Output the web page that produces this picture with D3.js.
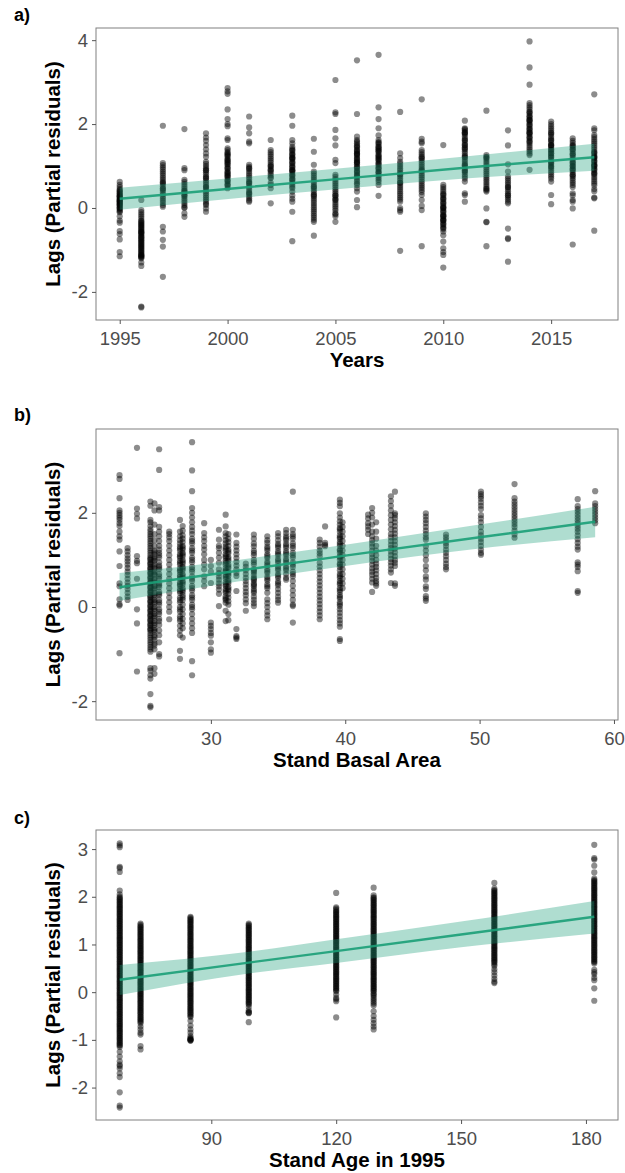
<!DOCTYPE html>
<html>
<head>
<meta charset="utf-8">
<script src="https://cdn.jsdelivr.net/npm/d3@7"></script>
<style>
  html, body { margin: 0; padding: 0; background: #fff; }
  svg { display: block; font-family: "Liberation Sans", Arial, sans-serif; }
</style>
</head>
<body>
<svg id="chart" width="625" height="1173"></svg>
<script>
// ---------------- Panel a: Years ----------------
const yearsA = [1995,1996,1997,1998,1999,2000,2001,2002,2003,2004,2005,2006,2007,2008,2009,2010,2011,2012,2013,2014,2015,2016,2017];
const lagsA = [
  [0.62,0.55,0.5,0.45,0.4,0.35,0.32,0.3,0.28,0.25,0.22,0.2,0.18,0.15,0.14,0.12,0.1,0.08,0.05,0.02,0,-0.05,-0.1,-0.2,-0.3,-0.35,-0.55,-0.62,-0.75,-1.05,-1.15,0.42,0.37,0.27,0.17,0.07,-0.02,-0.08],
  [0.19,-0.05,-0.1,-0.15,-0.2,-0.25,-0.3,-0.35,-0.4,-0.45,-0.5,-0.55,-0.58,-0.6,-0.62,-0.65,-0.68,-0.7,-0.75,-0.8,-0.85,-0.9,-0.95,-1,-1.05,-1.1,-1.12,-1.15,-1.18,-1.2,-1.3,-1.38,-2.35,-2.37,-0.32,-0.37,-0.42,-0.47,-0.52,-0.57,-0.72,-0.77,-0.82,-0.87,-0.92,-0.97,-1.02,-1.07,-1.13,-1.16],
  [1.96,1.07,1.02,0.97,0.92,0.87,0.82,0.77,0.72,0.67,0.62,0.6,0.57,0.52,0.47,0.45,0.42,0.37,0.32,0.27,0.22,0.17,0.12,0.07,0.03,-0.45,-0.56,-0.76,-0.92,-1.64],
  [1.88,0.95,0.9,0.67,0.62,0.57,0.52,0.47,0.42,0.4,0.37,0.32,0.3,0.27,0.22,0.17,0.12,0.07,0.02,0,-0.13,-0.21],
  [1.78,1.68,1.6,1.5,1.4,1.3,1.22,1.1,1.05,1,0.95,0.9,0.9,0.85,0.8,0.75,0.72,0.7,0.65,0.6,0.55,0.5,0.5,0.45,0.4,0.35,0.3,0.25,0.2,0.15,0.1,0.07,-0.01,-0.09],
  [2.86,2.78,2.72,2.35,2.12,2,1.95,1.66,1.62,1.42,1.38,1.33,1.3,1.28,1.23,1.18,1.13,1.1,1.08,1.03,0.98,0.93,0.88,0.83,0.8,0.78,0.73,0.68,0.63,0.58,0.53,0.47,1.25,1.15,1.05,0.95,0.85,0.75,0.65,0.55],
  [2.18,1.92,1.78,1.58,1.54,1.03,0.98,0.95,0.93,0.88,0.83,0.78,0.73,0.68,0.63,0.6,0.58,0.53,0.48,0.43,0.38,0.35,0.33,0.28,0.23,0.18,0.15],
  [1.62,1.38,1.33,1.28,1.23,1.18,1.13,1.08,1.03,1,0.98,0.93,0.9,0.88,0.83,0.78,0.73,0.71,0.6,0.55,0.47,0.11],
  [2.2,1.96,1.62,1.54,1.46,1.41,1.36,1.31,1.26,1.21,1.2,1.16,1.11,1.06,1.01,0.96,0.91,0.9,0.86,0.81,0.76,0.71,0.66,0.61,0.56,0.51,0.47,0.39,0.3,0.22,0.15,-0.09,-0.79,1.38,1.28,1.18,1.08,0.98,0.88,0.78,0.68],
  [1.65,1.34,1.03,0.87,0.82,0.77,0.72,0.67,0.62,0.57,0.52,0.5,0.47,0.42,0.37,0.32,0.3,0.27,0.22,0.17,0.12,0.07,0.02,-0.03,-0.08,-0.13,-0.18,-0.23,-0.28,-0.33,-0.66],
  [3.05,2.28,2.24,1.86,1.66,1.49,1.15,1.07,0.79,0.74,0.69,0.64,0.59,0.54,0.49,0.44,0.39,0.34,0.3,0.29,0.24,0.2,0.19,0.14,0.09,0.04,-0.01,-0.06,-0.13,-0.15,-0.2,-0.33],
  [3.52,2.24,1.7,1.62,1.58,1.54,1.49,1.44,1.39,1.34,1.3,1.29,1.24,1.19,1.14,1.1,1.09,1.04,0.99,0.94,0.89,0.84,0.79,0.74,0.69,0.64,0.59,0.55,0.47,0.39,0.19,0.02,1.47,1.37,1.27,1.17,1.07,0.97,0.87,0.77],
  [3.65,2.4,2.12,1.9,1.73,1.62,1.57,1.52,1.47,1.42,1.4,1.37,1.32,1.27,1.22,1.2,1.17,1.12,1.07,1.02,0.97,0.92,0.87,0.82,0.77,0.72,0.67,0.62,0.55,0.29,1.55,1.45,1.35,1.25,1.15,1.05,0.95,0.85],
  [2.29,1.3,1.19,1.1,1.05,1,0.95,0.9,0.85,0.8,0.8,0.75,0.7,0.65,0.6,0.6,0.55,0.5,0.45,0.4,0.35,0.3,0.25,0.2,0.15,0,-0.05,-0.09,-1.02],
  [2.59,1.65,1.58,1.54,1.38,1.33,1.28,1.23,1.2,1.18,1.13,1.08,1.03,0.98,0.93,0.9,0.88,0.83,0.78,0.73,0.68,0.63,0.58,0.53,0.48,0.43,0.38,0.31,0.19,0.05,-0.05,-0.91],
  [1.5,0.55,0.5,0.45,0.4,0.35,0.3,0.25,0.2,0.15,0.1,0.05,0,0,-0.05,-0.1,-0.15,-0.2,-0.2,-0.25,-0.3,-0.3,-0.35,-0.4,-0.45,-0.5,-0.56,-0.65,-0.8,-0.96,-1.05,-1.12,-1.42,0.32,0.22,0.12,0.02,-0.08,-0.18,-0.28,-0.38,-0.48],
  [2.08,1.9,1.85,1.8,1.8,1.75,1.7,1.65,1.6,1.55,1.5,1.5,1.45,1.4,1.35,1.3,1.25,1.2,1.15,1.1,1.05,1,0.95,0.9,0.85,0.8,0.75,0.7,0.63,0.35,0.31,0.15,1.88,1.78,1.62,1.42,1.22,1.02,0.88],
  [2.32,1.26,1.22,1.2,1.17,1.12,1.07,1.02,0.97,0.92,0.87,0.82,0.77,0.72,0.67,0.62,0.57,0.52,0.47,0.45,0.42,0.39,-0.01,-0.33,-0.34,-0.91],
  [1.85,1.49,1.04,0.87,0.75,0.7,0.65,0.6,0.55,0.5,0.5,0.45,0.4,0.35,0.3,0.3,0.25,0.2,0.15,0.11,-0.49,-0.72,-0.74,-1.28],
  [3.97,3.35,2.94,2.5,2.45,2.4,2.35,2.3,2.25,2.2,2.15,2.1,2.1,2.05,2,1.95,1.9,1.85,1.8,1.8,1.75,1.7,1.65,1.6,1.55,1.5,1.45,1.4,1.35,1.3,1.26,0.91,2.28,2.18,2.08,1.98,1.88,1.78,1.68,1.58],
  [2.06,2,1.95,1.9,1.85,1.8,1.75,1.7,1.65,1.6,1.55,1.5,1.5,1.45,1.4,1.35,1.3,1.3,1.25,1.2,1.15,1.1,1.05,1,0.95,0.9,0.85,0.8,0.75,0.7,0.63,0.31,0.09,1.78,1.62,1.48,1.38,1.22,1.08,0.98],
  [1.66,1.6,1.55,1.5,1.45,1.4,1.4,1.35,1.3,1.25,1.2,1.15,1.1,1.05,1,1,0.95,0.9,0.85,0.8,0.75,0.7,0.65,0.6,0.55,0.5,0.35,0.3,0.19,0.15,-0.01,-0.87,1.48,1.28,1.08,0.92,0.78],
  [2.71,1.9,1.85,1.74,1.69,1.64,1.59,1.54,1.49,1.44,1.39,1.34,1.29,1.24,1.2,1.19,1.14,1.09,1.04,1,0.99,0.94,0.89,0.84,0.79,0.74,0.69,0.64,0.59,0.54,0.45,0.4,0.25,0.23,-0.54,1.32,1.22,1.12,1.02,0.92,0.82]
];
const fitA_x  = [1995, 2001, 2006, 2011, 2017];
const fitA_y  = [0.22, 0.50, 0.73, 0.96, 1.21];
const fitA_lo = [-0.04, 0.26, 0.49, 0.70, 0.89];
const fitA_hi = [0.48, 0.75, 0.98, 1.23, 1.53];
const ticksAx = [1995, 2000, 2005, 2010, 2015];
const ticksAy = [-2, 0, 2, 4];

// ---------------- Panel b: Stand Basal Area ----------------
const basalB = [23.2,23.8,24.5,25.5,25.8,26.15,26.9,27.7,27.9,28.6,29.5,30.0,30.6,31.1,31.3,31.9,32.6,33.2,34.2,35.0,35.6,36.1,38.1,38.5,39.6,39.8,41.7,42.0,42.3,43.4,43.7,46.0,47.5,50.1,52.6,57.3,58.6];
const lagsB = [
  [2.8,2.72,2.31,2.05,2,1.95,1.9,1.85,1.78,1.72,1.6,1.5,1.43,1.18,0.87,0.5,0.44,0.16,0.06,0.03,-0.98],
  [1.25,1.18,1.1,1.03,0.97,0.9,0.83,0.75,0.68,0.6,0.52,0.45,0.38,0.3,0.22,0.15],
  [3.38,2.09,1.98,1.88,1.08,0.98,0.93,0.6,-0.05,-0.35,-1.37],
  [2.24,2.15,1.85,1.8,1.72,1.65,1.6,1.55,1.5,1.45,1.4,1.35,1.3,1.25,1.2,1.15,1.1,1.05,1,0.95,0.9,0.85,0.8,0.75,0.7,0.65,0.6,0.55,0.5,0.45,0.4,0.35,0.3,0.25,0.2,0.15,0.1,0.05,0,-0.05,-0.1,-0.15,-0.2,-0.25,-0.3,-0.35,-0.4,-0.45,-0.5,-0.55,-0.6,-0.65,-0.7,-0.75,-0.8,-0.85,-0.9,-0.95,-1.3,-1.35,-1.45,-1.52,-1.85,-2.1,-2.13,1.02,0.92,0.82,0.72,0.62,0.52,0.42,0.32,0.22,0.12,0.02,-0.08,-0.18,-0.28,-0.38,-0.48],
  [2.2,2.05,1.75,1.55,1.42,1.3,1.2,1.12,1.05,0.98,0.9,0.82,0.75,0.68,0.6,0.52,0.45,0.38,0.3,0.22,0.15,0.08,0,-0.08,-0.15,-0.22,-0.3,-0.38,-0.45,-0.52,-0.6,-0.7,-0.78,-0.82,-0.9,-1.3,-1.42,1.16,1.01,0.86,0.71,0.56,0.41,0.26,0.11,-0.04,-0.19,-0.34,-0.49,-0.64],
  [3.35,2.91,2.12,2.05,1.7,1.6,1.5,1.4,1.3,1.22,1.15,1.05,0.95,0.88,0.8,0.7,0.6,0.5,0.42,0.32,0.25,0.15,0.05,-0.05,-0.15,-0.25,-0.38,-0.5,-0.6,-0.75,-1,-1.05,1.1,0.84,0.65,0.46,0.28,0.1,-0.1,-0.3],
  [1.6,1.55,1.48,1.4,1.3,1.2,1.1,1,0.9,0.8,0.7,0.6,0.5,0.4,0.3,0.2,0.1,0,-0.1,-0.26],
  [1.85,1.6,1.5,1.42,1.35,1.28,1.2,1.12,1.05,0.98,0.9,0.82,0.75,0.68,0.6,0.52,0.45,0.38,0.3,0.2,0.1,0,-0.1,-0.2,-0.3,-0.4,-0.5,-0.6,-0.93,-1.1,1.24,1.08,0.94,0.78,0.64,0.48,0.34,0.15,-0.05,-0.25],
  [1.72,1.62,1.52,1.45,1.38,1.3,1.22,1.15,1.08,1,0.92,0.85,0.78,0.7,0.62,0.55,0.48,0.4,0.32,0.25,0.15,0.05,-0.05,-0.15,-0.25,-0.35,-0.45,-0.65,1.26,1.12,0.96,0.82,0.66,0.52,0.36,0.2],
  [3.5,2.9,2.46,2.1,2,1.9,1.8,1.7,1.62,1.55,1.45,1.35,1.25,1.15,1.05,0.95,0.85,0.75,0.65,0.55,0.45,0.35,0.25,0.15,0.05,-0.05,-0.15,-0.25,-0.35,-0.45,-0.55,-1.15,-1.45,1.4,1.2,1,0.8,0.6,0.4,0.2,0],
  [1.78,1.57,1.48,1.4,1.3,1.22,1.12,1,0.9,0.8,0.65,0.55,0.44],
  [1,0.87,0.75,0.51,-0.33,-0.4,-0.47,-0.55,-0.61,-0.75,-0.9,-0.97],
  [1.64,1.43,1.3,1.25,1.15,1.05,0.94,0.8,0.72,0.65,0.58,0.5,0.44,0.37,0.28,0.02],
  [1.96,1.71,1.57,1.5,1.42,1.35,1.28,1.2,1.12,1.05,0.98,0.9,0.82,0.75,0.68,0.6,0.52,0.45,0.38,0.3,0.22,0.15,0.09,-0.08,-0.3,1.24,1.08,0.94,0.78,0.64,0.48,0.34,0.18],
  [1.55,1.45,1.38,1.3,1.22,1.14,1.06,0.98,0.9,0.82,0.74,0.66,0.58,0.5,0.42,0.35,0.28,0.2,0.12,0.05,-0.15,-0.28,1.18,1.02,0.86,0.7,0.54,0.38],
  [1.54,1.36,1.28,1.2,1.12,1.04,0.96,0.88,0.8,0.72,0.66,0.34,-0.47,-0.62,-0.65,-0.68],
  [0.92,0.85,0.78,0.7,0.62,0.55,0.48,0.4,0.32,0.25,0.16,0.08,-0.08],
  [1.54,1.45,1.35,1.29,1.2,1.1,1,0.9,0.8,0.74,0.68,0.62,0.56,0.5,0.44,0.38,0.3,0.22,0.15,0.08,0.02,1.15,0.95,0.77,0.59,0.47,0.34],
  [1.5,1.42,1.36,1.28,1.2,1.12,1.04,0.96,0.88,0.8,0.72,0.64,0.56,0.48,0.4,0.3,0.16,0.08,0,-0.1,-0.18,-0.26,1.24,1.08,0.92,0.76,0.6,0.44],
  [1.57,1.5,1.42,1.34,1.26,1.18,1.1,1.02,0.94,0.86,0.78,0.7,0.62,0.54,0.46,0.38,0.3,0.22,0.15,0.09,1.3,1.14,0.98,0.82,0.66,0.5],
  [1.64,1.57,1.5,1.42,1.34,1.26,1.18,1.1,1.02,0.94,0.86,0.78,0.7,0.62,0.58,1.46,1.3,1.14,0.98,0.82],
  [2.45,1.64,1.55,1.45,1.35,1.25,1.15,1.05,0.95,0.85,0.75,0.65,0.55,0.45,0.35,0.25,0.15,0.05,0.02,-0.33,1.5,1.3,1.1,0.9,0.7],
  [1.43,1.36,1.28,1.2,1.14,1.08,0.94,0.86,0.78,0.7,0.62,0.54,0.46,0.38,0.3,0.22,0.14,0.06,-0.02,-0.1,-0.18,-0.26],
  [1.71,1.36,1.32,1.29],
  [2.28,2.21,2.14,1.99,1.9,1.82,1.75,1.68,1.6,1.52,1.45,1.38,1.3,1.22,1.15,1.08,1,0.92,0.85,0.78,0.7,0.62,0.55,0.48,0.4,0.32,0.25,0.18,0.1,0.02,-0.05,-0.12,-0.2,-0.28,-0.35,-0.42,-0.68,-0.72,1.65,1.48,1.34,1.2,1.05,0.9,0.66,0.51,0.36,0.21,0.06],
  [1.8,1.7,1.6,1.5,1.4,1.3,1.2,1.1,1,0.9,0.8,0.7,0.6,0.5,0.4],
  [1.96,1.88,1.78,1.71,1.64,1.55],
  [2.1,2,1.9,1.75,1.6,1.5,1.42,1.35,1.28,1.2,1.12,1.05,0.98,0.9,0.82,0.75,0.68,0.6,0.52,0.32],
  [1.8,1.6,1.45,1.3,1.2,1.1,1,0.92,0.85,0.78,0.7,0.62,0.55,0.5,0.45],
  [2.35,2.25,2.15,2.05,1.95,1.85,1.75,1.65,1.55,1.48,1.4,1.32,1.25,1.18,1.1,1.02,0.95,0.88,0.8,0.73,0.51],
  [2.45,1.99,1.95,1.88,1.8,1.72,1.64,1.56,1.48,1.4,1.32,1.24,1.16,1.08,1,0.94,0.87,0.5,0.45],
  [1.99,1.92,1.85,1.78,1.7,1.62,1.55,1.48,1.43,1.29,1.2,1.1,1,0.87,0.78,0.65,0.58,0.44,0.38,0.23,0.18,0.13],
  [1.54,1.48,1.42,1.36,1.3,1.22,1.15,1.08,1,0.92,0.85,0.8],
  [2.45,2.4,2.35,2.3,2.22,2.15,2.08,1.95,1.88,1.8,1.7,1.6,1.52,1.45,1.38,1.3,1.22,1.15,1.11],
  [2.61,2.31,2.24,2.18,2.12,2.06,2,1.94,1.88,1.82,1.76,1.7,1.62,1.54,1.47],
  [2.29,2.14,2.08,2.02,1.96,1.9,1.84,1.78,1.72,1.66,1.6,1.52,1.44,1.36,1.28,1.22,0.95,0.9,0.85,0.76,0.34,0.3],
  [2.46,2.2,2.14,2.08,2.02,1.96,1.9,1.84,1.78]
];
const fitB_x  = [23.2, 32, 40, 50, 58.6];
const fitB_y  = [0.42, 0.77, 1.09, 1.48, 1.81];
const fitB_lo = [0.13, 0.54, 0.87, 1.24, 1.48];
const fitB_hi = [0.72, 1.00, 1.32, 1.75, 2.13];
const ticksBx = [30, 40, 50, 60];
const ticksBy = [-2, 0, 2];

// ---------------- Panel c: Stand Age in 1995 ----------------
const ageC = [68, 73, 85, 99, 120, 129, 158, 182];
const lagsC = [
  [3.12,3.08,3.04,2.63,2.6,2.52,2.13,2.05,2,1.95,1.9,1.85,1.8,1.75,1.7,1.65,1.6,1.55,1.5,1.45,1.4,1.35,1.3,1.25,1.2,1.15,1.1,1.05,1,0.95,0.9,0.85,0.8,0.75,0.7,0.65,0.6,0.55,0.5,0.45,0.4,0.35,0.3,0.25,0.2,0.15,0.1,0.05,0,-0.05,-0.1,-0.15,-0.2,-0.25,-0.3,-0.35,-0.4,-0.45,-0.5,-0.55,-0.6,-0.65,-0.7,-0.75,-0.8,-0.85,-0.9,-0.95,-1,-1.05,-1.1,-1.15,-1.25,-1.35,-1.45,-1.52,-1.55,-1.6,-1.7,-1.78,-2.1,-2.38,-2.42,
   1.98,1.93,1.88,1.83,1.78,1.73,1.68,1.63,1.58,1.53,1.48,1.43,1.38,1.33,1.28,1.23,1.18,1.13,1.08,1.03,0.98,0.93,0.88,0.83,0.78,0.73,0.68,0.63,0.58,0.53,0.48,0.43,0.38,0.33,0.28,0.23,0.18,0.13,0.08,0.03,-0.02,-0.07,-0.12,-0.17,-0.22,-0.27,-0.32,-0.37,-0.42,-0.47,-0.52,-0.57,-0.62,-0.67,-0.72,-0.77,-0.82,-0.87,-0.92,-0.97,-1.02,-1.07,-1.12],
  [1.44,1.38,1.33,1.28,1.23,1.18,1.13,1.08,1.03,0.98,0.93,0.88,0.83,0.78,0.73,0.68,0.63,0.58,0.53,0.48,0.43,0.38,0.33,0.28,0.23,0.18,0.13,0.08,0.03,-0.02,-0.07,-0.12,-0.17,-0.22,-0.27,-0.32,-0.37,-0.42,-0.47,-0.52,-0.57,-0.62,-0.65,-0.72,-0.78,-0.85,-0.89,-1.13,-1.2,
   1.41,1.36,1.31,1.26,1.21,1.16,1.11,1.06,1.01,0.96,0.91,0.86,0.81,0.76,0.71,0.66,0.61,0.56,0.51,0.46,0.41,0.36,0.31,0.26,0.21,0.16,0.11,0.06,0.01,-0.04,-0.09,-0.14,-0.19,-0.24,-0.29,-0.34,-0.39,-0.44,-0.5,-0.55,-0.6],
  [1.58,1.53,1.48,1.43,1.38,1.33,1.28,1.23,1.18,1.13,1.08,1.03,0.98,0.93,0.88,0.83,0.78,0.73,0.68,0.63,0.58,0.53,0.48,0.43,0.38,0.33,0.28,0.23,0.18,0.13,0.08,0.03,-0.02,-0.07,-0.12,-0.17,-0.22,-0.27,-0.32,-0.37,-0.42,-0.47,-0.52,-0.6,-0.7,-0.78,-0.85,-0.92,-0.96,-0.98,-1,-1.02,
   1.56,1.51,1.46,1.41,1.36,1.31,1.26,1.21,1.16,1.11,1.06,1.01,0.96,0.91,0.86,0.81,0.76,0.71,0.66,0.61,0.56,0.51,0.46,0.41,0.36,0.31,0.26,0.21,0.16,0.11,0.06,0.01,-0.04,-0.09,-0.14,-0.19,-0.24,-0.29,-0.34,-0.39,-0.44,-0.5,-0.99,-1.01],
  [1.44,1.39,1.34,1.29,1.24,1.19,1.14,1.09,1.04,0.99,0.94,0.89,0.84,0.79,0.74,0.69,0.64,0.59,0.54,0.49,0.44,0.39,0.34,0.29,0.24,0.19,0.14,0.09,0.04,-0.01,-0.06,-0.11,-0.16,-0.21,-0.26,-0.31,-0.38,-0.42,-0.44,-0.63,
   1.41,1.36,1.31,1.26,1.21,1.16,1.11,1.06,1.01,0.96,0.91,0.86,0.81,0.76,0.71,0.66,0.61,0.56,0.51,0.46,0.41,0.36,0.31,0.26,0.21,0.16,0.11,0.06,0.01,-0.04,-0.09,-0.14,-0.19,-0.24,-0.43],
  [2.08,1.78,1.72,1.67,1.62,1.57,1.52,1.47,1.42,1.37,1.32,1.27,1.22,1.17,1.12,1.07,1.02,0.97,0.92,0.87,0.82,0.77,0.72,0.67,0.62,0.57,0.52,0.47,0.42,0.37,0.32,0.27,0.22,0.17,0.12,0.07,0.02,-0.05,-0.12,-0.19,-0.53,
   1.75,1.69,1.64,1.59,1.54,1.49,1.44,1.39,1.34,1.29,1.24,1.19,1.14,1.09,1.04,0.99,0.94,0.89,0.84,0.79,0.74,0.69,0.64,0.59,0.54,0.49,0.44,0.39,0.34,0.29,0.24,0.19,0.14,0.09,0.04,-0.15],
  [2.19,2.03,1.97,1.92,1.87,1.82,1.77,1.72,1.67,1.62,1.57,1.52,1.47,1.42,1.37,1.32,1.27,1.22,1.17,1.12,1.07,1.02,0.97,0.92,0.87,0.82,0.77,0.72,0.67,0.62,0.57,0.52,0.47,0.42,0.37,0.32,0.27,0.22,0.17,0.12,0.07,0.02,-0.05,-0.12,-0.2,-0.28,-0.4,-0.5,-0.58,-0.65,-0.72,-0.78,
   1.99,1.94,1.89,1.84,1.79,1.74,1.69,1.64,1.59,1.54,1.49,1.44,1.39,1.34,1.29,1.24,1.19,1.14,1.09,1.04,0.99,0.94,0.89,0.84,0.79,0.74,0.69,0.64,0.59,0.54,0.49,0.44,0.39,0.34,0.29,0.24,0.19,0.14,0.09,0.04,-0.02,-0.08,-0.16,-0.24],
  [2.29,2.17,2.12,2.07,2.02,1.97,1.92,1.87,1.82,1.77,1.72,1.67,1.62,1.57,1.52,1.47,1.42,1.37,1.32,1.27,1.22,1.17,1.12,1.07,1.02,0.97,0.92,0.87,0.82,0.77,0.72,0.67,0.62,0.55,0.48,0.42,0.35,0.28,0.22,0.19,
   2.14,2.09,2.04,1.99,1.94,1.89,1.84,1.79,1.74,1.69,1.64,1.59,1.54,1.49,1.44,1.39,1.34,1.29,1.24,1.19,1.14,1.09,1.04,0.99,0.94,0.89,0.84,0.79,0.74,0.69,0.64,0.58],
  [3.09,2.81,2.78,2.65,2.51,2.38,2.33,2.28,2.23,2.18,2.13,2.08,2.03,1.98,1.93,1.88,1.83,1.78,1.73,1.68,1.63,1.58,1.53,1.48,1.43,1.38,1.33,1.28,1.23,1.18,1.13,1.08,1.03,0.98,0.93,0.88,0.83,0.78,0.73,0.68,0.63,0.6,0.47,0.42,0.38,0.3,0.25,0.08,-0.18,
   2.35,2.3,2.25,2.2,2.15,2.1,2.05,2,1.95,1.9,1.85,1.8,1.75,1.7,1.65,1.6,1.55,1.5,1.45,1.4,1.35,1.3,1.25,1.2,1.15,1.1,1.05,1,0.95,0.9,0.85,0.8,0.75,0.7,0.65]
];
const fitC_x  = [68, 99, 120, 150, 182];
const fitC_y  = [0.26, 0.62, 0.86, 1.21, 1.58];
const fitC_lo = [-0.06, 0.39, 0.61, 0.94, 1.23];
const fitC_hi = [0.57, 0.85, 1.11, 1.48, 1.91];
const ticksCx = [90, 120, 150, 180];
const ticksCy = [-2, -1, 0, 1, 2, 3];

// ---------------- Drawing ----------------
const svg = d3.select("#chart");
const LEFT = 96, RIGHT = 618;
const GREEN = "#1b9e77";

function drawPanel(o) {
  const x = d3.scaleLinear().domain(o.xDomain).range([LEFT, RIGHT]);
  const y = d3.scaleLinear().domain(o.yDomain).range([o.bottom, o.top]);
  const g = svg.append("g");

  const pts = o.xs.flatMap((xv, i) => o.vals[i].map(v => ({x: xv, y: v})));
  g.append("g").selectAll("circle").data(pts).join("circle")
    .attr("cx", d => x(d.x)).attr("cy", d => y(d.y))
    .attr("r", 3.1).attr("fill", "#000").attr("fill-opacity", 0.45);

  const band = o.fx.map((xv, i) => ({x: xv, f: o.fy[i], lo: o.flo[i], hi: o.fhi[i]}));
  g.append("path").datum(band)
    .attr("d", d3.area().x(d => x(d.x)).y0(d => y(d.lo)).y1(d => y(d.hi)).curve(d3.curveMonotoneX))
    .attr("fill", GREEN).attr("fill-opacity", 0.35);
  g.append("path").datum(band)
    .attr("d", d3.line().x(d => x(d.x)).y(d => y(d.f)))
    .attr("fill", "none").attr("stroke", GREEN).attr("stroke-opacity", 0.9).attr("stroke-width", 2.4);

  g.append("rect").attr("x", LEFT).attr("y", o.top)
    .attr("width", RIGHT - LEFT).attr("height", o.bottom - o.top)
    .attr("fill", "none").attr("stroke", "#808080").attr("stroke-width", 1);

  const xa = g.append("g").attr("transform", `translate(0,${o.bottom})`)
    .call(d3.axisBottom(x).tickValues(o.xt).tickSize(4).tickPadding(8).tickFormat(d3.format("d")));
  const ya = g.append("g").attr("transform", `translate(${LEFT},0)`)
    .call(d3.axisLeft(y).tickValues(o.yt).tickSize(4).tickPadding(4).tickFormat(d => d < 0 ? "-" + Math.abs(d) : String(d)));
  [xa, ya].forEach(a => {
    a.select(".domain").remove();
    a.selectAll(".tick line").attr("stroke", "#555");
    a.selectAll(".tick text").attr("fill", "#4d4d4d")
      .style("font-size", "18.5px").style("font-family", '"Liberation Sans", Arial, sans-serif');
  });

  svg.append("text").attr("x", (LEFT + RIGHT) / 2).attr("y", o.bottom + 47)
    .attr("text-anchor", "middle").attr("font-weight", "bold").attr("font-size", 20.5)
    .attr("fill", "#000").text(o.xTitle);
  svg.append("text")
    .attr("transform", `translate(60,${(o.top + o.bottom) / 2}) rotate(-90)`)
    .attr("text-anchor", "middle").attr("font-weight", "bold").attr("font-size", 20.5)
    .attr("fill", "#000").text("Lags (Partial residuals)");
  svg.append("text").attr("x", 14).attr("y", o.labelY)
    .attr("font-weight", "bold").attr("font-size", 18).attr("fill", "#000").text(o.label);
}

drawPanel({top: 28, bottom: 320, xDomain: [1993.9, 2018.1], yDomain: [-2.67, 4.29],
  xs: yearsA, vals: lagsA, fx: fitA_x, fy: fitA_y, flo: fitA_lo, fhi: fitA_hi,
  xt: ticksAx, yt: ticksAy, xTitle: "Years", label: "a)", labelY: 21});
drawPanel({top: 429, bottom: 720, xDomain: [21.45, 60.3], yDomain: [-2.4, 3.78],
  xs: basalB, vals: lagsB, fx: fitB_x, fy: fitB_y, flo: fitB_lo, fhi: fitB_hi,
  xt: ticksBx, yt: ticksBy, xTitle: "Stand Basal Area", label: "b)", labelY: 421});
drawPanel({top: 830, bottom: 1120, xDomain: [62.3, 187.7], yDomain: [-2.68, 3.40],
  xs: ageC, vals: lagsC, fx: fitC_x, fy: fitC_y, flo: fitC_lo, fhi: fitC_hi,
  xt: ticksCx, yt: ticksCy, xTitle: "Stand Age in 1995", label: "c)", labelY: 824});
</script>
</body>
</html>
